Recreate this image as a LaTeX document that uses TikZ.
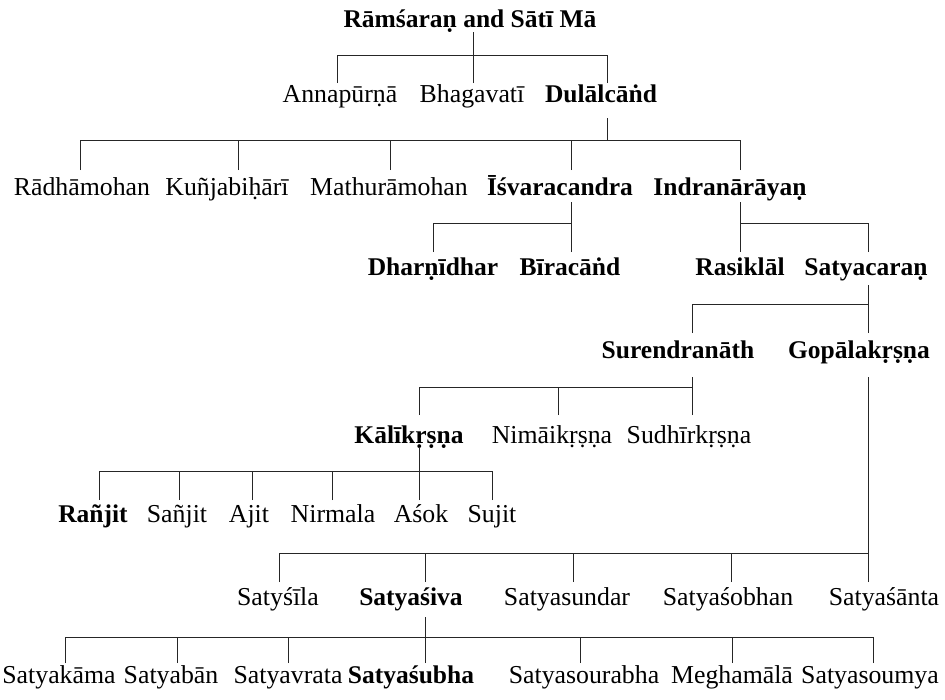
\documentclass[tikz,border=0pt]{standalone}
\usepackage{fontspec}
\setmainfont{Liberation Serif}
\newcommand\gfsz{\fontsize{25.8}{30}\selectfont}
\newcommand\gbsz{\fontsize{25.5}{30}\selectfont}
\begin{document}
\begin{tikzpicture}[x=1pt,y=-1pt,
  nm/.style={inner sep=0pt, anchor=base, font=\gfsz},
  bn/.style={nm, font=\gbsz\bfseries},
  ln/.style={line width=0.9pt, draw=black!85}]
\useasboundingbox (0,0) rectangle (945,699);
% row 0
\node[bn] (Ram) at (470,27) {Rāmśaraṇ and Sātī Mā};
% row 1
\node[nm] (Anna) at (340,102) {Annapūrṇā};
\node[nm] (Bhag) at (472,102) {Bhagavatī};
\node[bn] (Dulal) at (601,102) {Dulālcāṅd};
% row 2
\node[nm] (Radha) at (82,195) {Rādhāmohan};
\node[nm] (Kunja) at (227,195) {Kuñjabiḥārī};
\node[nm] (Math) at (389,195) {Mathurāmohan};
\node[bn] (Ish) at (560,195) {Īśvaracandra};
\node[bn] (Indra) at (730,195) {Indranārāyaṇ};
% row 3
\node[bn] (Dhar) at (433,275) {Dharṇīdhar};
\node[bn] (Bira) at (570,275) {Bīracāṅd};
\node[bn] (Rasik) at (740,275) {Rasiklāl};
\node[bn] (Satc) at (866,275) {Satyacaraṇ};
% row 4
\node[bn] (Suren) at (678,358) {Surendranāth};
\node[bn] (Gopal) at (859,358) {Gopālakṛṣṇa};
% row 5
\node[bn] (Kali) at (409,443) {Kālīkṛṣṇa};
\node[nm] (Nimai) at (552,443) {Nimāikṛṣṇa};
\node[nm] (Sudhir) at (689,443) {Sudhīrkṛṣṇa};
% row 6
\node[bn] (Ranjit) at (93,522) {Rañjit};
\node[nm] (Sanjit) at (177,522) {Sañjit};
\node[nm] (Ajit) at (249,522) {Ajit};
\node[nm] (Nirmala) at (333,522) {Nirmala};
\node[nm] (Asok) at (421,522) {Aśok};
\node[nm] (Sujit) at (492,522) {Sujit};
% row 7
\node[nm] (Sila) at (278,605) {Satyśīla};
\node[bn] (Siva) at (411,605) {Satyaśiva};
\node[nm] (Sundar) at (567,605) {Satyasundar};
\node[nm] (Sobhan) at (728,605) {Satyaśobhan};
\node[nm] (Santa) at (884,605) {Satyaśānta};
% row 8
\node[nm] (Kama) at (59,683) {Satyakāma};
\node[nm] (Ban) at (171,683) {Satyabān};
\node[nm] (Vrata) at (288,683) {Satyavrata};
\node[bn] (Subha) at (411,683) {Satyaśubha};
\node[nm] (Sourabha) at (584,683) {Satyasourabha};
\node[nm] (Megha) at (732,683) {Meghamālā};
\node[nm] (Soumya) at (870,683) {Satyasoumya};

% connector points: b = start below parent, j = junction on the bar, t = end above child
\coordinate (Ramb) at (473,32);   \coordinate (Ramj) at (473,55);
\coordinate (Annat) at (337,83);  \coordinate (Bhagt) at (473,83);  \coordinate (Dulalt) at (607,83);
\coordinate (Dulalb) at (607,118); \coordinate (Dulalj) at (607,140);
\coordinate (Radhat) at (80,170); \coordinate (Kunjat) at (238,170); \coordinate (Matht) at (390,170);
\coordinate (Isht) at (571,170);  \coordinate (Indrat) at (740,170);
\coordinate (Ishb) at (571,202);  \coordinate (Ishj) at (571,223);
\coordinate (Dhart) at (433,252); \coordinate (Birat) at (571,252);
\coordinate (Indrab) at (740,202); \coordinate (Indraj) at (740,223);
\coordinate (Rasikt) at (740,252); \coordinate (Satct) at (868,252);
\coordinate (Satcb) at (868,285); \coordinate (Satcj) at (868,304);
\coordinate (Surent) at (692,333); \coordinate (Gopalt) at (868,333);
\coordinate (Surenb) at (692,377); \coordinate (Surenj) at (692,387);
\coordinate (Kalit) at (419,415); \coordinate (Nimait) at (558,415); \coordinate (Sudhirt) at (692,415);
\coordinate (Kalib) at (419,447); \coordinate (Kalij) at (419,471);
\coordinate (Ranjitt) at (99,500); \coordinate (Sanjitt) at (179,500); \coordinate (Ajitt) at (252,500);
\coordinate (Nirmalat) at (332,500); \coordinate (Asokt) at (419,500); \coordinate (Sujitt) at (492,500);
\coordinate (Gopalb) at (868,377); \coordinate (Gopalj) at (868,553);
\coordinate (Silat) at (279,582); \coordinate (Sivat) at (425,582); \coordinate (Sundart) at (573,582);
\coordinate (Sobhant) at (731,582); \coordinate (Santat) at (868,582);
\coordinate (Sivab) at (425,617); \coordinate (Sivaj) at (425,637);
\coordinate (Kamat) at (65,663); \coordinate (Bant) at (177,663); \coordinate (Vratat) at (288,663);
\coordinate (Subhat) at (425,663); \coordinate (Sourabhat) at (580,663); \coordinate (Meghat) at (732,663);
\coordinate (Soumyat) at (873,663);

\begin{scope}[ln]
% Ram -> children
\draw (Ramb) -- (Ramj);
\draw (Annat |- Ramj) -- (Dulalt |- Ramj);
\foreach \c in {Anna,Bhag,Dulal} \draw (\c t) -- (\c t |- Ramj);
% Dulal -> children
\draw (Dulalb) -- (Dulalj);
\draw (Radhat |- Dulalj) -- (Indrat |- Dulalj);
\foreach \c in {Radha,Kunja,Math,Ish,Indra} \draw (\c t) -- (\c t |- Dulalj);
% Ish -> children
\draw (Ishb) -- (Ishj);
\draw (Dhart |- Ishj) -- (Birat |- Ishj);
\foreach \c in {Dhar,Bira} \draw (\c t) -- (\c t |- Ishj);
% Indra -> children
\draw (Indrab) -- (Indraj);
\draw (Rasikt |- Indraj) -- (Satct |- Indraj);
\foreach \c in {Rasik,Satc} \draw (\c t) -- (\c t |- Indraj);
% Satc -> children
\draw (Satcb) -- (Satcj);
\draw (Surent |- Satcj) -- (Gopalt |- Satcj);
\foreach \c in {Suren,Gopal} \draw (\c t) -- (\c t |- Satcj);
% Suren -> children
\draw (Surenb) -- (Surenj);
\draw (Kalit |- Surenj) -- (Sudhirt |- Surenj);
\foreach \c in {Kali,Nimai,Sudhir} \draw (\c t) -- (\c t |- Surenj);
% Kali -> children
\draw (Kalib) -- (Kalij);
\draw (Ranjitt |- Kalij) -- (Sujitt |- Kalij);
\foreach \c in {Ranjit,Sanjit,Ajit,Nirmala,Asok,Sujit} \draw (\c t) -- (\c t |- Kalij);
% Gopal -> children
\draw (Gopalb) -- (Gopalj);
\draw (Silat |- Gopalj) -- (Santat |- Gopalj);
\foreach \c in {Sila,Siva,Sundar,Sobhan,Santa} \draw (\c t) -- (\c t |- Gopalj);
% Siva -> children
\draw (Sivab) -- (Sivaj);
\draw (Kamat |- Sivaj) -- (Soumyat |- Sivaj);
\foreach \c in {Kama,Ban,Vrata,Subha,Sourabha,Megha,Soumya} \draw (\c t) -- (\c t |- Sivaj);
\end{scope}
\end{tikzpicture}
\end{document}
